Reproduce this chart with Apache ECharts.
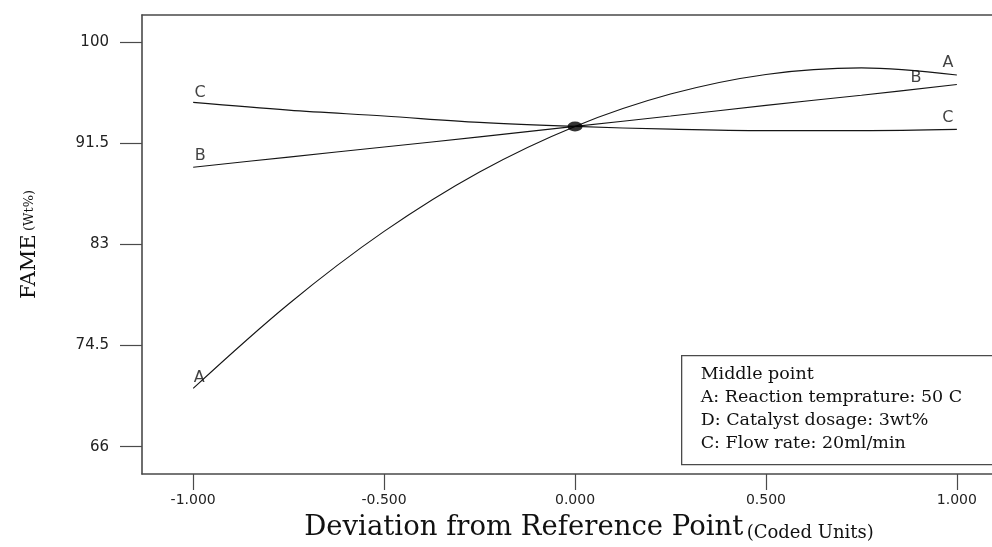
<!DOCTYPE html>
<html>
<head>
<meta charset="utf-8">
<script src="https://cdn.jsdelivr.net/npm/echarts@6/dist/echarts.min.js"></script>
<style>
html,body{margin:0;padding:0;background:#fff;}
#chart{width:992px;height:547px;}
</style>
</head>
<body>
<div id="chart"></div>
<script>
// ---- data ----
const deviation = [-1, -0.75, -0.5, -0.25, 0, 0.25, 0.5, 0.75, 1];
const factorA = [70.9, 78.0, 84.1, 89.1, 92.93, 95.65, 97.3, 97.85, 97.25];
const factorB = [89.5, 90.35, 91.2, 92.05, 92.93, 93.8, 94.7, 95.55, 96.45];
const factorC = [94.95, 94.3, 93.8, 93.27, 92.93, 92.7, 92.58, 92.58, 92.68];
const factorNames = ['A', 'B', 'C'];
const centerPoint = [0, 92.93];
const xTicks = [-1, -0.5, 0, 0.5, 1];
const yTicks = [66, 74.5, 83, 91.5, 100];
const legendLines = ['Middle point', 'A: Reaction temprature: 50 C', 'D: Catalyst dosage: 3wt%', 'C: Flow rate: 20ml/min'];

const pairs = (ys) => deviation.map((x, i) => [x, ys[i]]);
const allSeries = [factorA, factorB, factorC];
const last = deviation.length - 1;

// label offsets (style)
const leftOffsets = [[6, -11], [7, -11], [7, -10]];
const rightOffsets = [[-9, -12], [-41, -7], [-9, -12]];

const labelData = [];
allSeries.forEach((ys, k) => {
  labelData.push({ value: [deviation[0], ys[0]], name: factorNames[k], label: { offset: leftOffsets[k] } });
  labelData.push({ value: [deviation[last], ys[last]], name: factorNames[k], label: { offset: rightOffsets[k] } });
});

const axisColor = '#4a4a4a';
const xMin = -1.134, xMax = 1.092;
const chart = echarts.init(document.getElementById('chart'), null, { renderer: 'canvas' });
const lineSeries = allSeries.map((ys, k) => ({
  type: 'line',
  name: factorNames[k],
  data: pairs(ys),
  smooth: 0.35,
  showSymbol: false,
  silent: true,
  lineStyle: { color: '#151515', width: 1.1 },
  z: 3
}));

chart.setOption({
  animation: false,
  backgroundColor: '#fff',
  grid: { left: 142, top: 15, bottom: 73, right: 0, show: false },
  xAxis: [{
    type: 'value', min: xMin, max: xMax,
    name: '{a|Deviation from Reference Point} {b|(Coded Units)}',
    nameLocation: 'middle', nameGap: 40,
    nameTextStyle: { padding: [0, 0, 0, 44], rich: {
      a: { fontFamily: 'DejaVu Serif', fontSize: 27.5, color: '#111' },
      b: { fontFamily: 'DejaVu Serif', fontSize: 18, color: '#111', verticalAlign: 'bottom' }
    } },
    axisLine: { show: true, onZero: false, lineStyle: { color: axisColor, width: 1.6 } },
    axisTick: { show: true, inside: false, length: 16, customValues: xTicks, lineStyle: { color: axisColor, width: 1.2 } },
    axisLabel: { customValues: xTicks, margin: 19, fontFamily: 'DejaVu Sans', fontSize: 14, color: '#222',
      formatter: v => v.toFixed(3) },
    splitLine: { show: false }
  }, {
    type: 'value', min: xMin, max: xMax, position: 'top',
    axisLine: { show: true, onZero: false, lineStyle: { color: axisColor, width: 1.6 } },
    axisTick: { show: false }, axisLabel: { show: false }, splitLine: { show: false }
  }],
  yAxis: {
    type: 'value', min: 63.7, max: 102.3,
    name: '{a|FAME} {b|(Wt%)}',
    nameLocation: 'middle', nameGap: 102, nameRotate: 90,
    nameTextStyle: { rich: {
      a: { fontFamily: 'DejaVu Serif', fontSize: 21, color: '#111' },
      b: { fontFamily: 'DejaVu Serif', fontSize: 13, color: '#111' }
    } },
    axisLine: { show: true, onZero: false, lineStyle: { color: axisColor, width: 1.6 } },
    axisTick: { show: true, inside: false, length: 22, customValues: yTicks, lineStyle: { color: axisColor, width: 1.2 } },
    axisLabel: { customValues: yTicks, margin: 33, fontFamily: 'DejaVu Sans', fontSize: 15, color: '#222' },
    splitLine: { show: false }
  },
  series: lineSeries.concat([
    {
      type: 'scatter', name: 'center', data: [centerPoint], symbol: 'circle', symbolSize: [15, 10],
      itemStyle: { color: '#000' }, silent: true, z: 5
    },
    {
      type: 'scatter', name: 'labels', data: labelData, symbolSize: 1, silent: true,
      itemStyle: { color: 'rgba(0,0,0,0)' },
      label: { show: true, position: 'inside', formatter: p => p.name, fontFamily: 'DejaVu Sans', fontSize: 16, color: '#111' },
      z: 6
    }
  ]),
  graphic: [{
    type: 'group', left: 681, top: 355,
    children: [
      { type: 'rect', shape: { x: 0, y: 0, width: 340, height: 109 }, style: { fill: '#fff', stroke: axisColor, lineWidth: 1.3 } }
    ].concat(legendLines.map((t, i) => ({
      type: 'text', x: 19, y: 10 + i * 23,
      style: { text: t, fontFamily: 'DejaVu Serif', fontSize: 17.5, fill: '#111' }
    })))
  }]
});
</script>
</body>
</html>
